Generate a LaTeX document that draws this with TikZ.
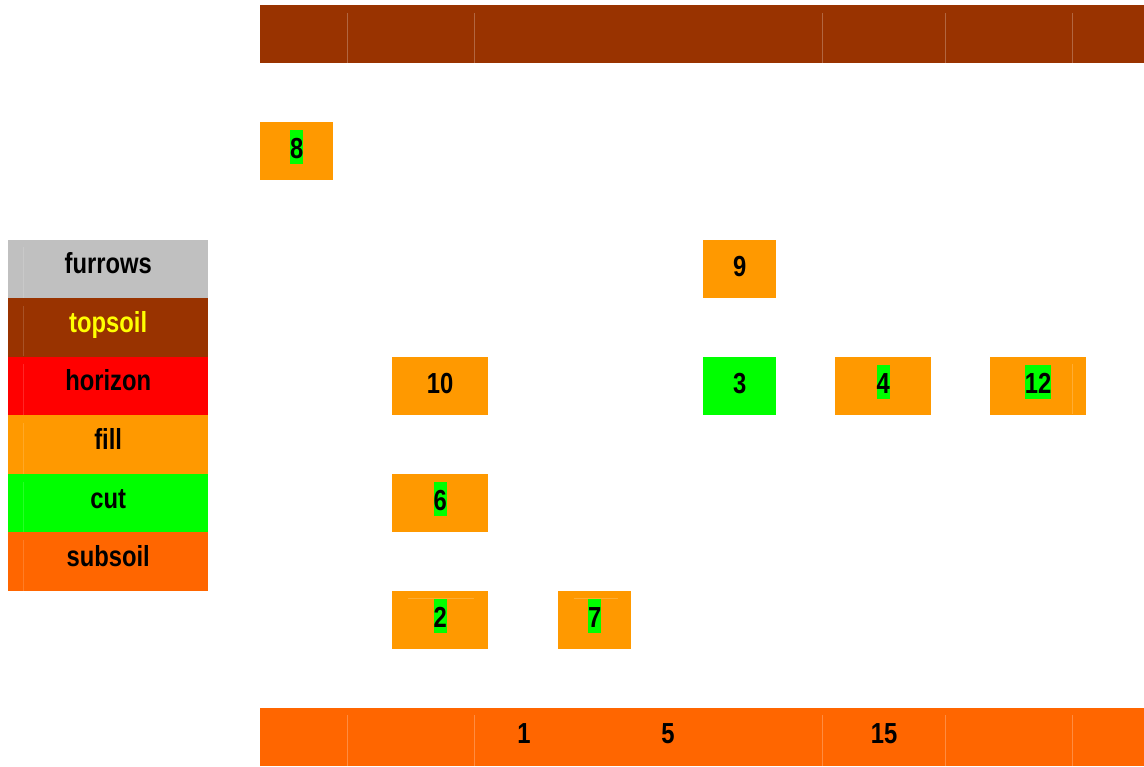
\documentclass[tikz,border=0pt]{standalone}
\usepackage{fontspec}
\setmainfont{Liberation Sans}
\newfontfamily\narrowsans[FakeStretch=0.82]{Liberation Sans}
\definecolor{topsoilc}{HTML}{993300}
\definecolor{subsoilc}{HTML}{FF6600}
\definecolor{fillc}{HTML}{FF9900}
\definecolor{cutc}{HTML}{00FF00}
\definecolor{furrowc}{HTML}{C0C0C0}
\definecolor{horizonc}{HTML}{FF0000}
\definecolor{topsoiltext}{HTML}{FFFF00}
\begin{document}
\begin{tikzpicture}[x=1pt,y=-1pt,
  lbl/.style={font=\narrowsans\fontsize{29}{34}\selectfont\bfseries, inner sep=0pt, anchor=base},
  cell/.style={rectangle, draw=none, inner sep=0pt, anchor=north west},
  hl/.style={lbl, fill=cutc, text height=28.5pt, text depth=5.5pt},
  seam/.style={line width=0.7pt}]
\useasboundingbox (0,0) rectangle (1144,767);
% bars
\node[cell, fill=topsoilc, minimum width=884pt, minimum height=58pt] (top) at (260,5) {};
\node[cell, fill=subsoilc, minimum width=884pt, minimum height=58pt] (bot) at (260,708) {};
\foreach \x in {347,474,822,945,1072}{
  \draw[seam, topsoilc!75!white] (\x,13) -- (\x,63);
  \draw[seam, subsoilc!75!white] (\x,715) -- (\x,766);
}
\node[lbl] (t1) at ([yshift=-6pt]bot.center -| 524,0) {1};
\node[lbl] (t5) at ([yshift=-6pt]bot.center -| 668,0) {5};
\node[lbl] (t15) at ([yshift=-6pt]bot.center -| 884,0) {15};
% legend
\foreach \n/\c/\tc/\i in {furrows/furrowc/black/0, topsoil/topsoilc/topsoiltext/1, horizon/horizonc/black/2, fill/fillc/black/3, cut/cutc/black/4, subsoil/subsoilc/black/5}{
  \node[cell, fill=\c, minimum width=200pt, minimum height=58.6pt] (L\n) at (8,239.5+58.5*\i) {};
  \node[lbl, text=\tc] (L\n-t) at ([yshift=-5pt]L\n.center) {\n};
  \draw[seam, \c!85!white] (23,247.5+58.5*\i) -- (23,298+58.5*\i);
}
% boxes
\node[cell, fill=fillc, minimum width=73pt, minimum height=58pt] (b8) at (260,122) {};
\node[hl] (b8t) at ([yshift=-7pt]b8.center) {8};
\node[cell, fill=fillc, minimum width=73pt, minimum height=58pt] (b9) at (703,240) {};
\node[lbl] (b9t) at ([yshift=-7pt]b9.center) {9};
\node[cell, fill=fillc, minimum width=96pt, minimum height=58pt] (b10) at (392,357) {};
\node[lbl] (b10t) at ([yshift=-7pt]b10.center) {10};
\node[cell, fill=cutc, minimum width=73pt, minimum height=58pt] (b3) at (703,357) {};
\node[lbl] (b3t) at ([yshift=-7pt]b3.center) {3};
\node[cell, fill=fillc, minimum width=96pt, minimum height=58pt] (b4) at (835,357) {};
\node[hl] (b4t) at ([yshift=-7pt]b4.center) {4};
\node[cell, fill=fillc, minimum width=96pt, minimum height=58pt] (b12) at (990,357) {};
\node[hl] (b12t) at ([yshift=-7pt]b12.center) {12};
\draw[seam, fillc!80!white] (1072,364) -- (1072,414);
\node[cell, fill=fillc, minimum width=96pt, minimum height=58pt] (b6) at (392,474) {};
\node[hl] (b6t) at ([yshift=-7pt]b6.center) {6};
\node[cell, fill=fillc, minimum width=96pt, minimum height=58pt] (b2) at (392,591) {};
\node[hl] (b2t) at ([yshift=-7pt]b2.center) {2};
\node[cell, fill=fillc, minimum width=73pt, minimum height=58pt] (b7) at (558,591) {};
\node[hl] (b7t) at ([yshift=-7pt]b7.center) {7};
\draw[seam, fillc!80!white] (408,598) -- (474,598);
\draw[seam, fillc!80!white] (574,598) -- (618,598);
\end{tikzpicture}
\end{document}
